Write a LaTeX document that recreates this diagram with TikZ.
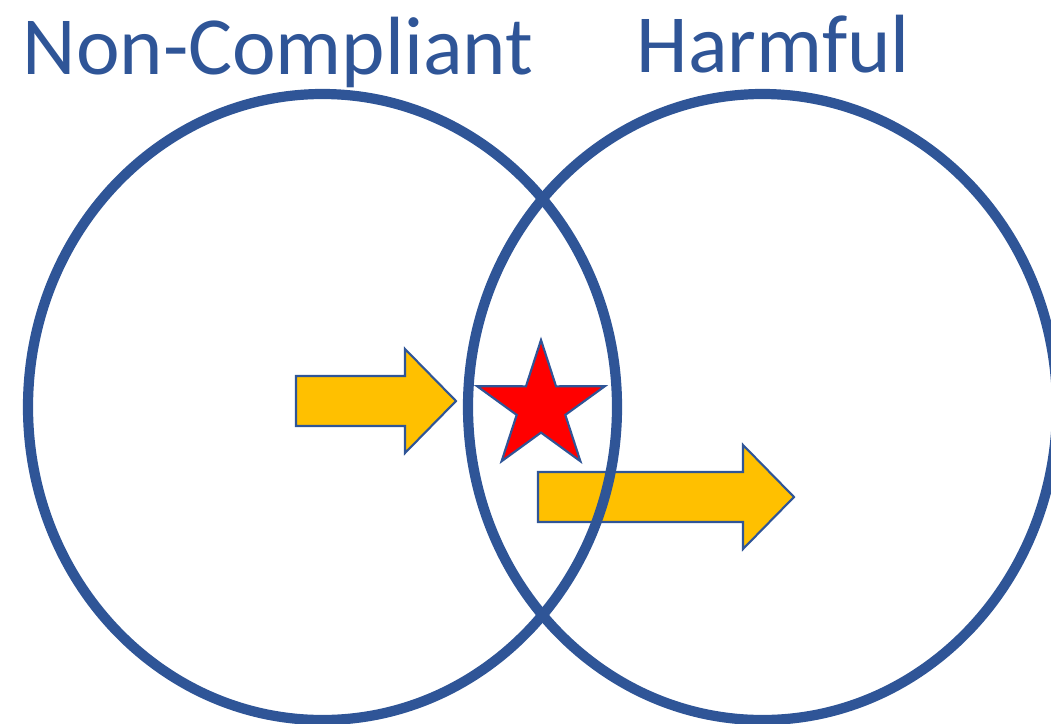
\documentclass[tikz,border=0pt]{standalone}
\usepackage{fontspec}
\setmainfont{Carlito}
\usetikzlibrary{shapes.geometric}
\definecolor{vennblue}{HTML}{2F5597}
\definecolor{arrowgold}{HTML}{FFC000}
\definecolor{starred}{HTML}{FF0000}
\tikzset{
  setline/.style={draw=vennblue, line width=2.9pt},
  setlabel/.style={text=vennblue, font=\fontsize{23.5}{28}\selectfont, anchor=base west, inner sep=0pt},
  movearrow/.style={fill=arrowgold, draw=vennblue, line width=0.6pt, line join=miter},
}
\begin{document}
\begin{tikzpicture}[x=0.01cm, y=-0.01cm]
  \useasboundingbox (0,0) rectangle (1051,724);
  % 집합 이름
  \node[setlabel] (noncompliant) at (22,74) {Non-Compliant};
  \node[setlabel] (harmful) at (636,72) {Harmful};
  % 화살표 두 개 (원 아래에 깔림)
  \draw[movearrow] (296,376) -- (405,376) -- (405,349) -- (456,401) -- (405,453) -- (405,426) -- (296,426) -- cycle;
  \draw[movearrow] (538,472) -- (743,472) -- (743,445) -- (794,497) -- (743,549) -- (743,522) -- (538,522) -- cycle;
  % 두 집합
  \draw[setline] (322.5,407) ellipse [x radius=294.5, y radius=313];
  \draw[setline] (762.5,407) ellipse [x radius=294.5, y radius=313];
  % 교집합 안의 별
  \node[star, star points=5, star point ratio=2.62, minimum size=1.34cm, inner sep=0pt,
        fill=starred, draw=vennblue, line width=0.6pt] (target) at (541,407) {};
\end{tikzpicture}
\end{document}
